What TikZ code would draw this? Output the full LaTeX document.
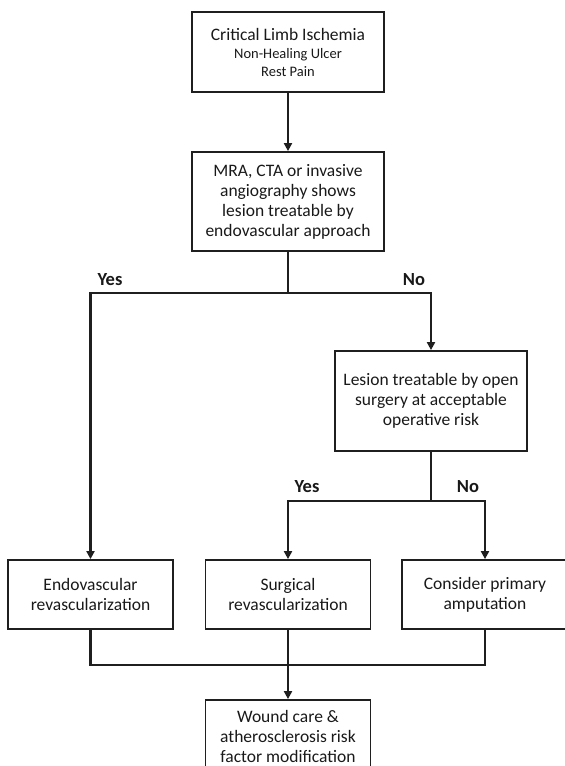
\documentclass[tikz,border=0pt]{standalone}
\usepackage{fontspec}
\setmainfont{Carlito}
\usetikzlibrary{arrows.meta}

\begin{document}
\begin{tikzpicture}[x=1pt, y=-1pt,
		box/.style={draw, line width=1.8pt, color=black!88, text=black!90, align=center, inner sep=0pt, font=\fontsize{17.5}{20}\selectfont},
		flow/.style={line width=2.8pt, color=black!88, -{Triangle[length=8pt, width=8pt]}},
		branch/.style={line width=2.8pt, color=black!88},
		answer/.style={font=\fontsize{18.5}{20}\selectfont\bfseries, text=black!90}]
		%%%%% START %%%%%
		
		\useasboundingbox (0, 0) rectangle (565, 766);
		
		\node[box, minimum width=192, minimum height=80, font=\fontsize{14.5}{18}\selectfont] (cli) at (288, 52) {{\fontsize{17.5}{18}\selectfont Critical Limb Ischemia}\\Non-Healing Ulcer\\Rest Pain};
		\node[box, minimum width=192, minimum height=99] (imaging) at (288, 201.5) {MRA, CTA or invasive\\angiography shows\\lesion treatable by\\endovascular approach};
		\node[box, minimum width=192, minimum height=100] (opensurg) at (431, 401) {Lesion treatable by open\\surgery at acceptable\\operative risk};
		
		\node[box, minimum width=165, minimum height=69] (endo) at (90.5, 594.5) {Endovascular\\revascularization};
		\node[box, minimum width=165, minimum height=69] (surg) at (288, 594.5) {Surgical\\revascularization};
		\node[box, minimum width=166, minimum height=69] (amput) at (485, 594.5) {Consider primary\\amputation};
		\node[box, minimum width=165, minimum height=72] (wound) at (288, 736) {Wound care \&\\atherosclerosis risk\\factor modification};
		
		\coordinate (split1) at (288, 293);
		\coordinate (split2) at (431, 501);
		\coordinate (merge) at (288, 665);
		
		\draw[flow] (cli) -- (imaging);
		\draw[branch] (imaging) -- (split1);
		\draw[flow] (split1) -| (endo);
		\draw[flow] (split1) -| (opensurg);
		\node[answer] (yes1) at (110, 280) {Yes};
		\node[answer] (no1) at (414, 280) {No};
		
		\draw[branch] (opensurg) -- (split2);
		\draw[flow] (split2) -| (surg);
		\draw[flow] (split2) -| (amput);
		\node[answer] (yes2) at (307, 487) {Yes};
		\node[answer] (no2) at (468, 487) {No};
		
		\draw[branch] (endo) |- (merge);
		\draw[branch] (amput) |- (merge);
		\draw[branch] (surg) -- (merge);
		\draw[flow] (merge) -- (wound);
		
		%%%%% END %%%%%
	\end{tikzpicture}
\end{document}
